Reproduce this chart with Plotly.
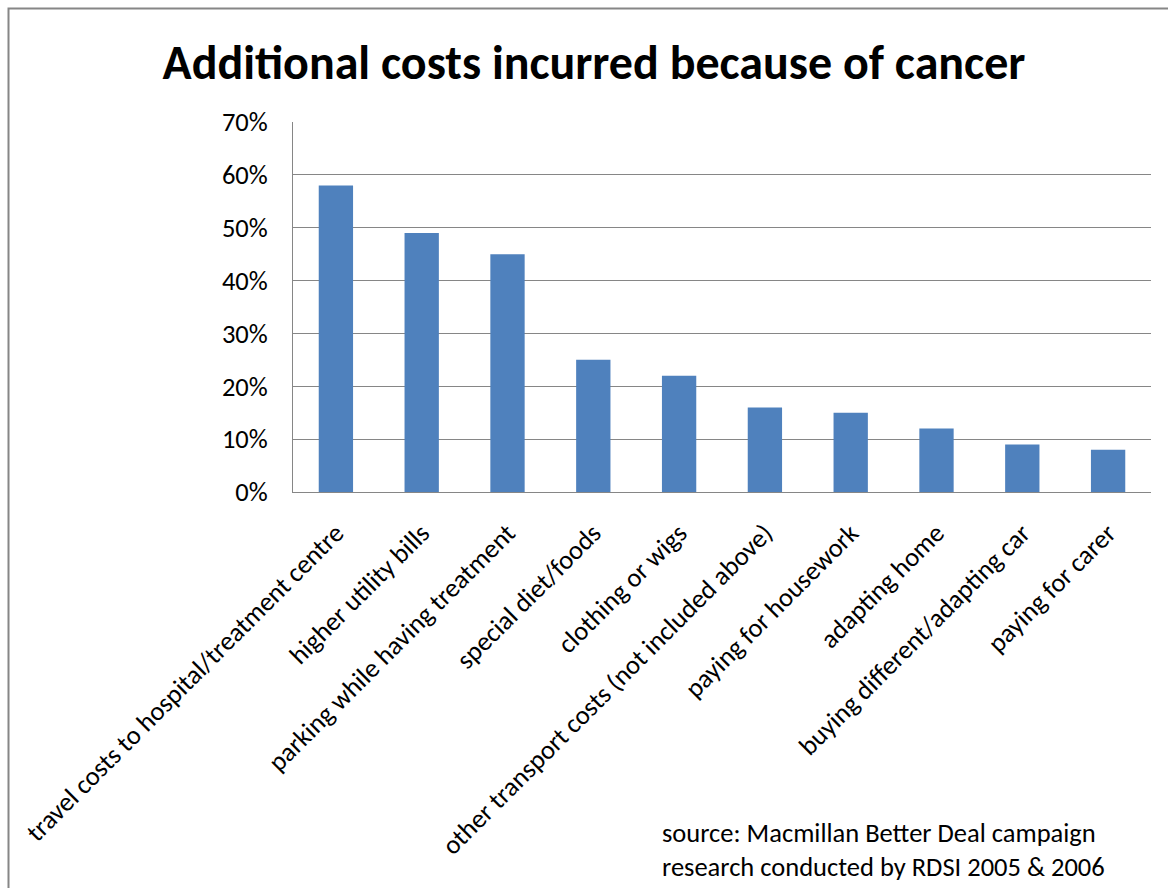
import plotly.graph_objects as go

categories = [
    "travel costs to hospital/treatment centre",
    "higher utility bills",
    "parking while having treatment",
    "special diet/foods",
    "clothing or wigs",
    "other transport costs (not included above)",
    "paying for housework",
    "adapting home",
    "buying different/adapting car",
    "paying for carer",
]
values = [0.58, 0.49, 0.45, 0.25, 0.22, 0.16, 0.15, 0.12, 0.09, 0.08]
y_ticks = [0, 0.1, 0.2, 0.3, 0.4, 0.5, 0.6, 0.7]
y_tick_labels = ["0%", "10%", "20%", "30%", "40%", "50%", "60%", "70%"]

W, H = 1168, 888
L, R, T, B = 293, 17, 122, 396
FONT = "Calibri, Carlito, Lato, sans-serif"

fig = go.Figure(go.Bar(
    x=categories, y=values, marker=dict(color="#4F81BD", line=dict(width=0)),
    width=0.4,
))

pw = W - L - R
ph = H - T - B
def px2x(p):
    return (p - L) / pw
def py2y(p):
    return (H - B - p) / ph

fig.update_layout(
    width=W, height=H,
    margin=dict(l=L, r=R, t=T, b=B, pad=0),
    paper_bgcolor="white", plot_bgcolor="white",
    showlegend=False,
    font=dict(family=FONT, color="black"),
    title=dict(text="<b>Additional costs incurred because of cancer</b>",
               x=594 / W, xanchor="center", xref="container",
               y=1 - 62 / H, yanchor="middle", yref="container",
               font=dict(size=48, family=FONT, color="black")),
    xaxis=dict(tickangle=-45, tickfont=dict(size=26.5, family=FONT, color="black"),
               showline=True, linecolor="#868686", linewidth=1, ticks="",
               ticklabelstandoff=14,
               showgrid=False, range=[-0.5, 9.5]),
    yaxis=dict(range=[0, 0.7], tickvals=y_ticks, ticktext=y_tick_labels,
               tickfont=dict(size=26.5, family=FONT, color="black"),
               showgrid=True, gridcolor="#868686", gridwidth=1,
               showline=True, linecolor="#868686", linewidth=1,
               ticks="", ticklabelstandoff=19,
               zeroline=False),
    shapes=[dict(type="rect", xref="paper", yref="paper",
                 x0=px2x(8.5), x1=px2x(1200), y0=py2y(8.5), y1=py2y(950),
                 line=dict(color="#868686", width=2), fillcolor="rgba(0,0,0,0)",
                 layer="below")],
    annotations=[dict(text="source: Macmillan Better Deal campaign<br>research conducted by RDSI 2005 & 2006",
                      xref="paper", yref="paper", x=px2x(660), y=py2y(815),
                      xanchor="left", yanchor="top", align="left", showarrow=False,
                      font=dict(size=26.5, family=FONT, color="black"))],
)

fig.write_html("out.html")
